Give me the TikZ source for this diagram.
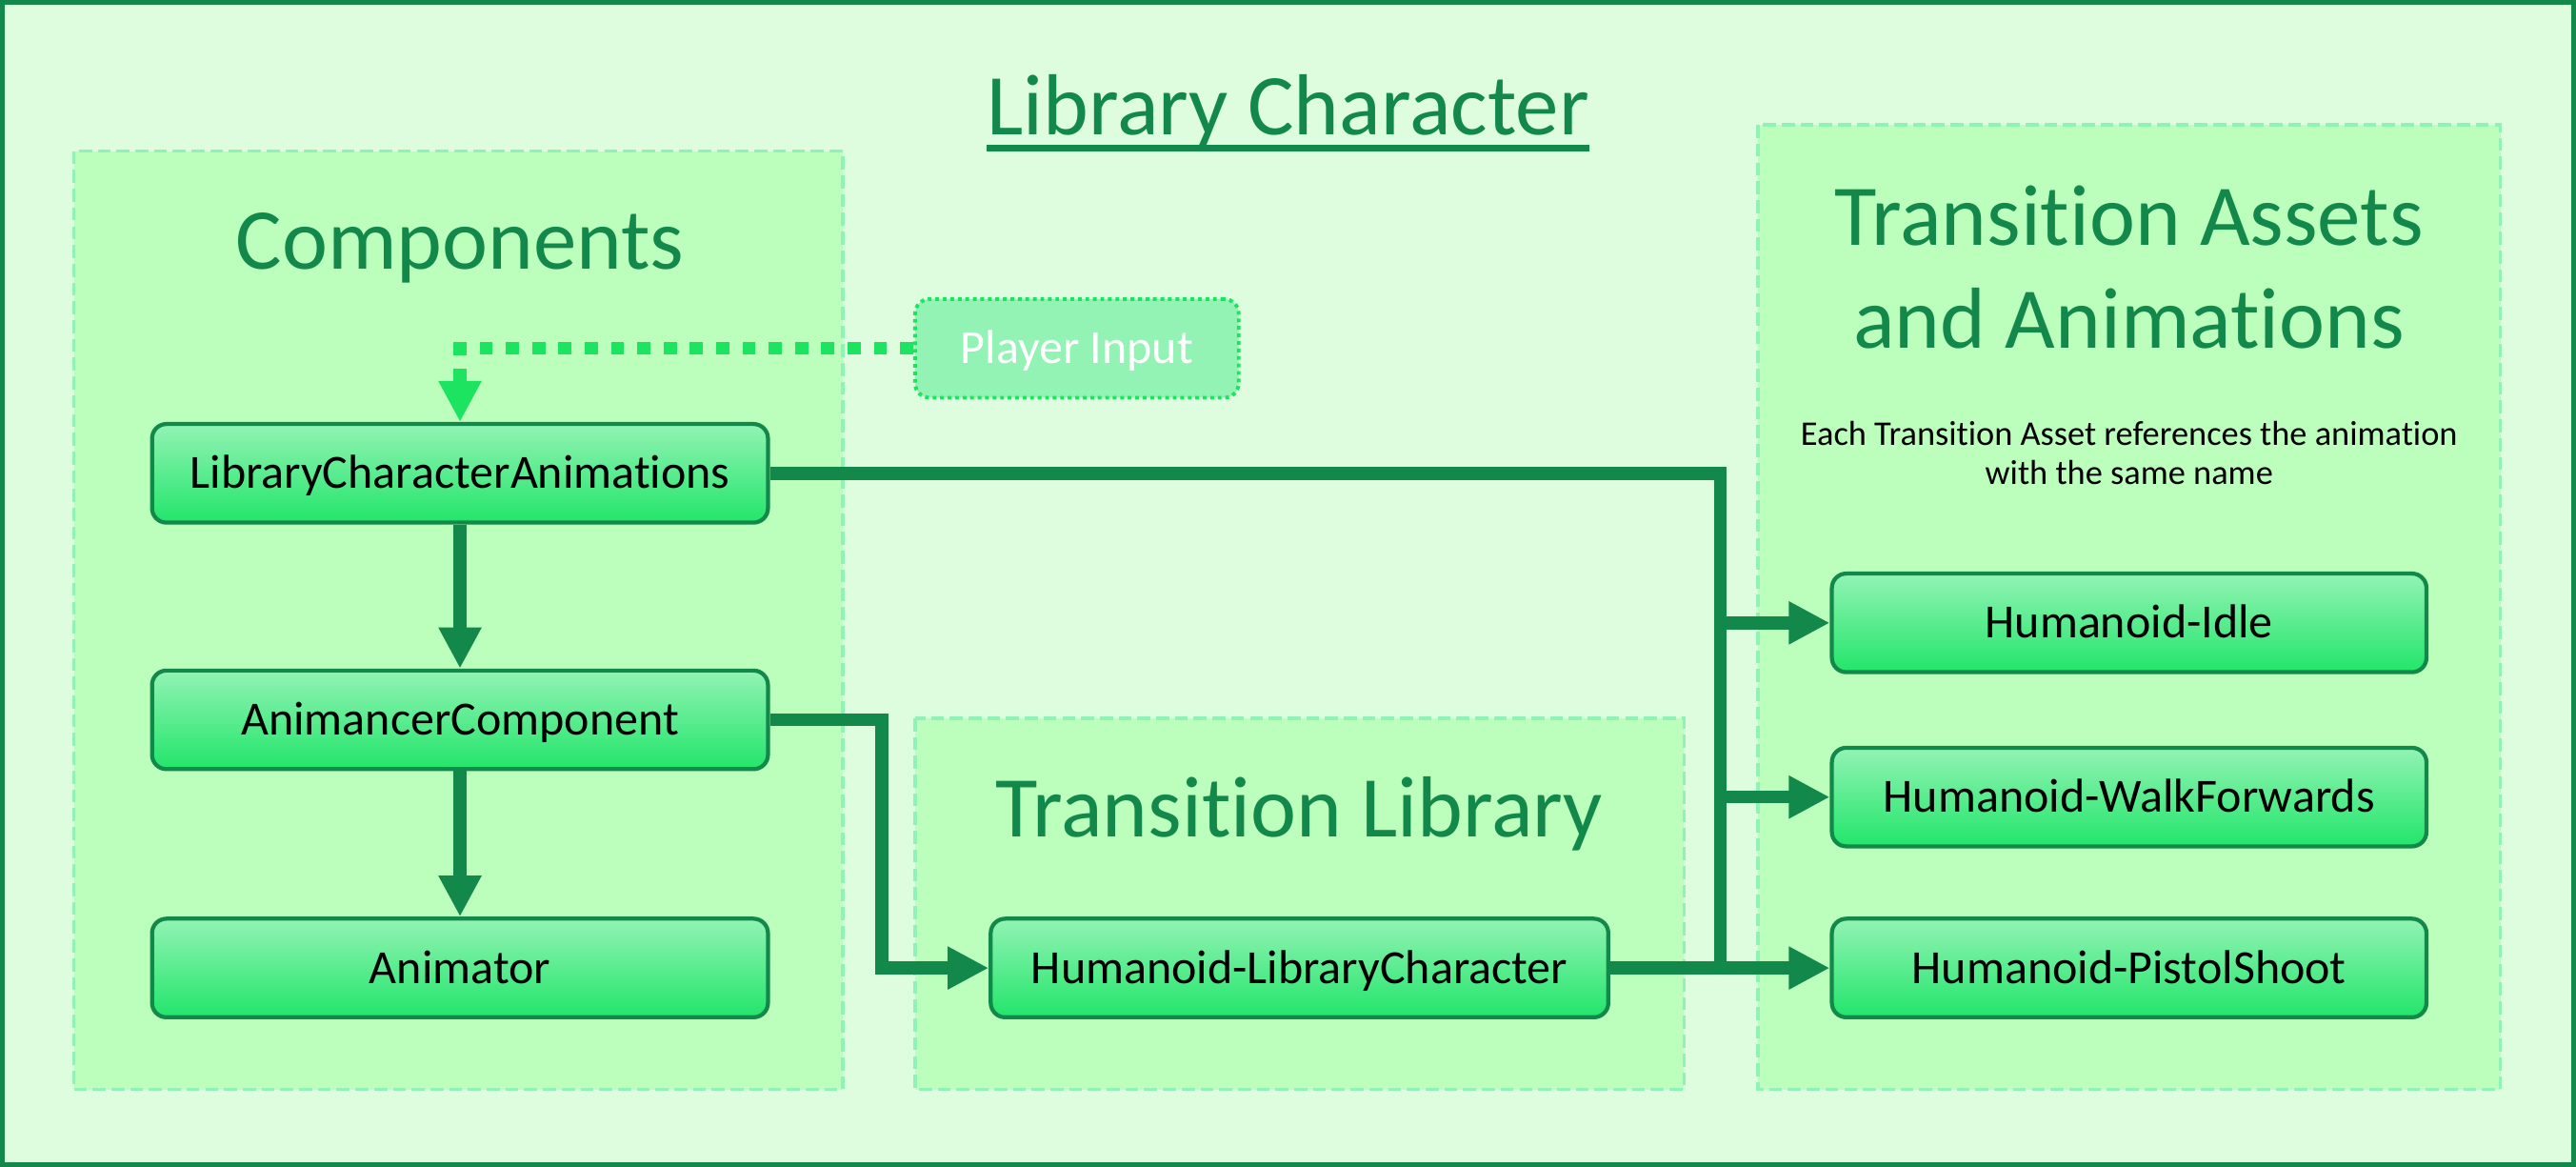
\documentclass[tikz,border=0pt]{standalone}
\usepackage{fontspec}
\setmainfont[Ligatures=NoCommon]{Carlito}
\usetikzlibrary{arrows.meta, calc}

\definecolor{pageFill}{HTML}{DEFDDE}
\definecolor{panelFill}{HTML}{BCFEBC}
\definecolor{panelEdge}{HTML}{90F2B6}
\definecolor{darkGreen}{HTML}{12894A}
\definecolor{brightGreen}{HTML}{1CE460}
\definecolor{nodeTop}{HTML}{92F3B4}
\definecolor{nodeBottom}{HTML}{22E56A}

\begin{document}
\begin{tikzpicture}[
		x=0.02cm, y=-0.02cm, % one unit = one px of the sketch, y runs down
		font=\fontsize{16.5}{20}\selectfont,
		>={Triangle[length=5mm, width=4.9mm]},
		panel/.style={fill=panelFill, draw=panelEdge, line width=1.1pt, dash pattern=on 4.5pt off 2pt},
		heading/.style={anchor=base, text=darkGreen, font=\fontsize{30}{35.7}\selectfont, align=center, inner sep=0pt},
		part/.style={draw=darkGreen, line width=1.4pt, rounded corners=5pt, top color=nodeTop, bottom color=nodeBottom,
			minimum height=1.2cm, text height=10.6pt, text depth=0pt, inner sep=0pt},
		link/.style={draw=darkGreen, line width=4.4pt},
		inputlink/.style={draw=brightGreen, line width=4.4pt, dash pattern=on 0.16cm off 0.16cm}
		]
		
		% --- 1. Page and Frame ---
		\useasboundingbox (0,0) rectangle (1568,710);
		\draw[darkGreen, line width=1.7pt, fill=pageFill] (1.5,1.5) rectangle (1566.5,708.5);
		
		\node[heading] (title) at (784,82) {Library Character};
		\draw[darkGreen, line width=2.2pt] ($(title.base west)+(0,8)$) -- ($(title.base east)+(0,8)$);
		
		% --- 2. Panels (Background) ---
		\draw[panel] (45,92) rectangle (513,663);
		\draw[panel] (557,437) rectangle (1025,663);
		\draw[panel] (1070,76) rectangle (1522,663);
		
		% base of a two line node is the base of its last line
		\node[heading] (compTitle) at (280,164) {Components};
		\node[heading] (libTitle) at (791,509) {Transition Library};
		\node[heading] (assetTitle) at (1296,212) {Transition Assets\\and Animations};
		\node[anchor=base, align=center, inner sep=0pt, font=\fontsize{12}{13.6}\selectfont] (assetNote) at (1296,295)
			{Each Transition Asset references the animation\\with the same name};
		
		% --- 3. Components ---
		\node[part, minimum width=7.5cm] (lca) at (280,288) {LibraryCharacterAnimations};
		\node[part, minimum width=7.5cm] (ac) at (280,438) {AnimancerComponent};
		\node[part, minimum width=7.5cm] (animator) at (280,589) {Animator};
		
		\node[draw=brightGreen, line width=1.3pt, dash pattern=on 1.3pt off 1.3pt, fill=nodeTop, rounded corners=5pt,
			minimum width=3.94cm, minimum height=1.2cm, text height=10.6pt, text depth=0pt, inner sep=0pt,
			text=white, font=\fontsize{16.5}{19}\selectfont] (player) at (655.5,212) {Player Input};
		
		% --- 4. Library and Assets ---
		\node[part, minimum width=7.52cm] (hlc) at (791,589) {Humanoid-LibraryCharacter};
		\node[part, minimum width=7.24cm] (idle) at (1296,379) {Humanoid-Idle};
		\node[part, minimum width=7.24cm] (walk) at (1296,485) {Humanoid-WalkForwards};
		\node[part, minimum width=7.24cm] (pistol) at (1296,589) {Humanoid-PistolShoot};
		
		% --- 5. Connectors ---
		\draw[inputlink, ->, brightGreen] (player.west) -| (lca.north);
		\draw[link, ->] (lca) -- (ac);
		\draw[link, ->] (ac) -- (animator);
		\draw[link, ->] (ac.east) -- ++(68,0) |- (hlc.west);
		
		\coordinate (busTop) at (1047,288);
		\coordinate (busBottom) at (1047,589);
		\draw[link] (lca.east) -- (busTop) -- (busBottom);
		\draw[link, ->] (busTop |- idle.west) -- (idle.west);
		\draw[link, ->] (busTop |- walk.west) -- (walk.west);
		\draw[link, ->] (hlc.east) -- (pistol.west);
		
	\end{tikzpicture}
\end{document}
